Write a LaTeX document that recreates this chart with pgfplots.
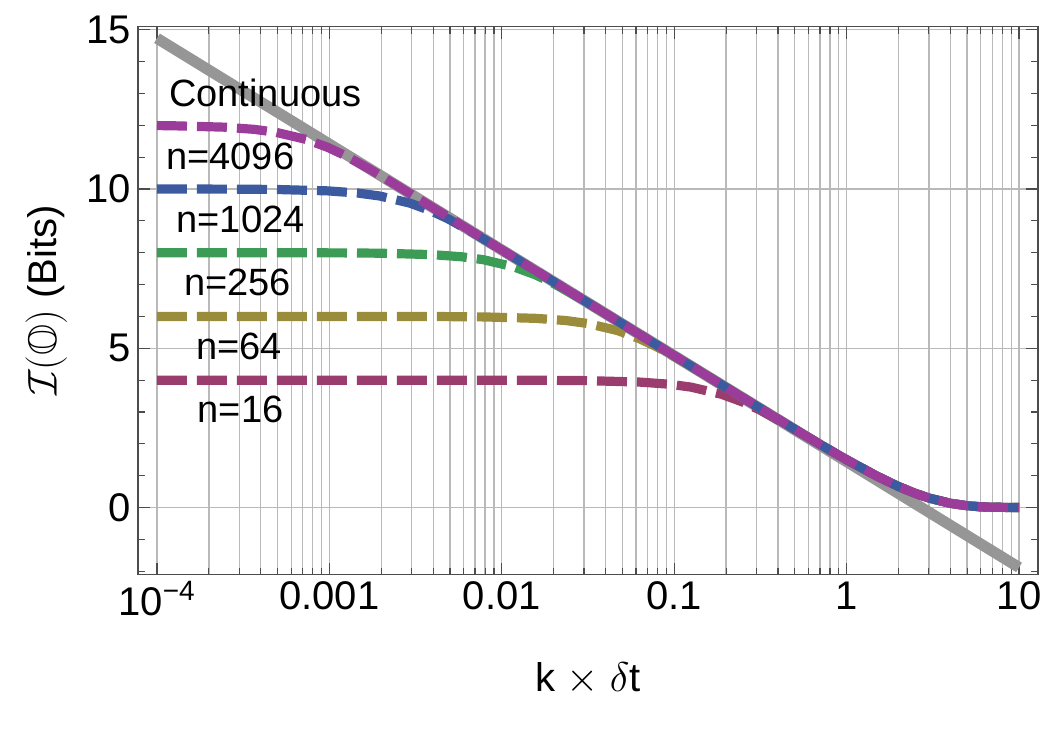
\documentclass[border=0pt]{standalone}
\usepackage{amssymb}
\usepackage{pgfplots}
\pgfplotsset{compat=1.18}
\usepackage{fontspec}
\setmainfont{Liberation Sans}

\definecolor{cgray}{RGB}{150,150,150}
\definecolor{cmag}{RGB}{155,60,155}
\definecolor{cblue}{RGB}{60,90,160}
\definecolor{cgreen}{RGB}{60,155,85}
\definecolor{colive}{RGB}{155,140,60}
\definecolor{cmaroon}{RGB}{155,60,110}

\begin{document}
\begin{tikzpicture}
\begin{axis}[
    xmode=log, scale only axis,
    width=450pt, height=274pt,
    xmin=7.76e-5, xmax=12.88, ymin=-2.1, ymax=15.1,
    xtick={1e-4,1e-3,0.01,0.1,1,10},
    xticklabels={10\textsuperscript{−4},0.001,0.01,0.1,1,10},
    minor xtick={2e-4,3e-4,4e-4,5e-4,6e-4,7e-4,8e-4,9e-4,
                 2e-3,3e-3,4e-3,5e-3,6e-3,7e-3,8e-3,9e-3,
                 0.02,0.03,0.04,0.05,0.06,0.07,0.08,0.09,
                 0.2,0.3,0.4,0.5,0.6,0.7,0.8,0.9,
                 2,3,4,5,6,7,8,9},
    ytick={0,5,10,15}, yticklabels={0,5,10,15},
    minor ytick={-2,-1,1,2,3,4,6,7,8,9,11,12,13,14},
    xmajorgrids, xminorgrids, ymajorgrids,
    grid style={gray!55, line width=0.65pt},
    tick align=inside,
    major tick length=6pt, minor tick length=3.5pt,
    tick style={black!70, line width=0.6pt},
    axis line style={black!70, line width=0.8pt},
    ticklabel style={font=\fontsize{20}{24}\selectfont},
    label style={font=\fontsize{20}{24}\selectfont},
    xlabel={k $\times$ $\delta$t},
    ylabel={$\mathcal{I}(\mathbb{O})$ (Bits)},
    xlabel style={at={(axis description cs:0.5,-0.19)}, anchor=center},
    ylabel style={at={(axis description cs:-0.102,0.5)}, anchor=center},
    every axis plot/.append style={line join=round},
    dsh/.style={line width=4.6pt, dash pattern=on 15pt off 5pt},
]
% continuous limit
\addplot[cgray, line width=5.5pt] coordinates {(1e-4,14.730) (10,-1.879)};

% n=16
\addplot[cmaroon, dsh] coordinates {
  (1e-4,4.000) (6.25e-3,3.999) (1.875e-2,3.995) (3.125e-2,3.985) (6.25e-2,3.941)
  (9.375e-2,3.872) (0.125,3.782) (0.1875,3.559) (0.25,3.312) (0.3125,3.068)
  (0.4375,2.636) (0.625,2.144) (0.8,1.803) (1,1.501) (1.5,0.986) (2,0.661)
  (2.5,0.446) (3,0.301) (4,0.134) (5,0.059) (6,0.025) (7,0.011) (10,0.001)};

% n=64
\addplot[colive, dsh] coordinates {
  (1e-4,6.000) (1.563e-3,5.999) (4.688e-3,5.995) (7.813e-3,5.985) (1.563e-2,5.941)
  (2.344e-2,5.872) (3.125e-2,5.781) (4.688e-2,5.557) (6.25e-2,5.308) (7.813e-2,5.062)
  (0.1094,4.626) (0.1563,4.122) (0.3125,3.127) (0.5,2.458) (0.7,1.986) (1,1.501)
  (1.5,0.986) (2,0.661) (2.5,0.446) (3,0.301) (4,0.134) (5,0.059) (6,0.025)
  (7,0.011) (10,0.001)};

% n=256
\addplot[cgreen, dsh] coordinates {
  (1e-4,8.000) (3.906e-4,7.999) (1.172e-3,7.995) (1.953e-3,7.985) (3.906e-3,7.941)
  (5.859e-3,7.872) (7.813e-3,7.781) (1.172e-2,7.557) (1.563e-2,7.308) (1.953e-2,7.062)
  (2.734e-2,6.625) (3.906e-2,6.120) (7.813e-2,5.121) (0.1,4.765) (0.15,4.181)
  (0.2,3.767) (0.3,3.185) (0.5,2.458) (0.7,1.986) (1,1.501) (1.5,0.986) (2,0.661)
  (2.5,0.446) (3,0.301) (4,0.134) (5,0.059) (6,0.025) (7,0.011) (10,0.001)};

% n=1024
\addplot[cblue, dsh] coordinates {
  (1e-4,10.000) (2.93e-4,9.995) (4.883e-4,9.985) (9.766e-4,9.941) (1.465e-3,9.872)
  (1.953e-3,9.781) (2.930e-3,9.557) (3.906e-3,9.308) (4.883e-3,9.062) (6.836e-3,8.625)
  (9.766e-3,8.120) (1.953e-2,7.121) (0.05,5.765) (0.1,4.765) (0.15,4.181)
  (0.2,3.767) (0.3,3.185) (0.5,2.458) (0.7,1.986) (1,1.501) (1.5,0.986) (2,0.661)
  (2.5,0.446) (3,0.301) (4,0.134) (5,0.059) (6,0.025) (7,0.011) (10,0.001)};

% n=4096
\addplot[cmag, dsh] coordinates {
  (1e-4,11.990) (1.221e-4,11.985) (2.441e-4,11.941) (3.662e-4,11.872) (4.883e-4,11.781)
  (7.324e-4,11.557) (9.766e-4,11.308) (1.221e-3,11.062) (1.709e-3,10.625)
  (2.441e-3,10.120) (4.883e-3,9.121) (0.01,8.087) (0.02,7.087) (0.05,5.765)
  (0.1,4.765) (0.15,4.181) (0.2,3.767) (0.3,3.185) (0.5,2.458) (0.7,1.986)
  (1,1.501) (1.5,0.986) (2,0.661) (2.5,0.446) (3,0.301) (4,0.134) (5,0.059)
  (6,0.025) (7,0.011) (10,0.001)};

\begin{scope}[every node/.style={font=\fontsize{19}{23}\selectfont}]
\node at (axis cs:4.25e-4,13.02) {Continuous};
\node at (axis cs:2.66e-4,11.01) {n=4096};
\node at (axis cs:3.05e-4,9.03) {n=1024};
\node at (axis cs:2.93e-4,7.06) {n=256};
\node at (axis cs:3.0e-4,5.05) {n=64};
\node at (axis cs:3.05e-4,3.07) {n=16};
\end{scope}

\coordinate (SW) at (rel axis cs:0,0);
\coordinate (NE) at (rel axis cs:1,1);
\end{axis}
\path ([xshift=-69pt,yshift=-77.5pt]SW) rectangle ([xshift=6pt,yshift=13.25pt]NE);
\end{tikzpicture}
\end{document}
